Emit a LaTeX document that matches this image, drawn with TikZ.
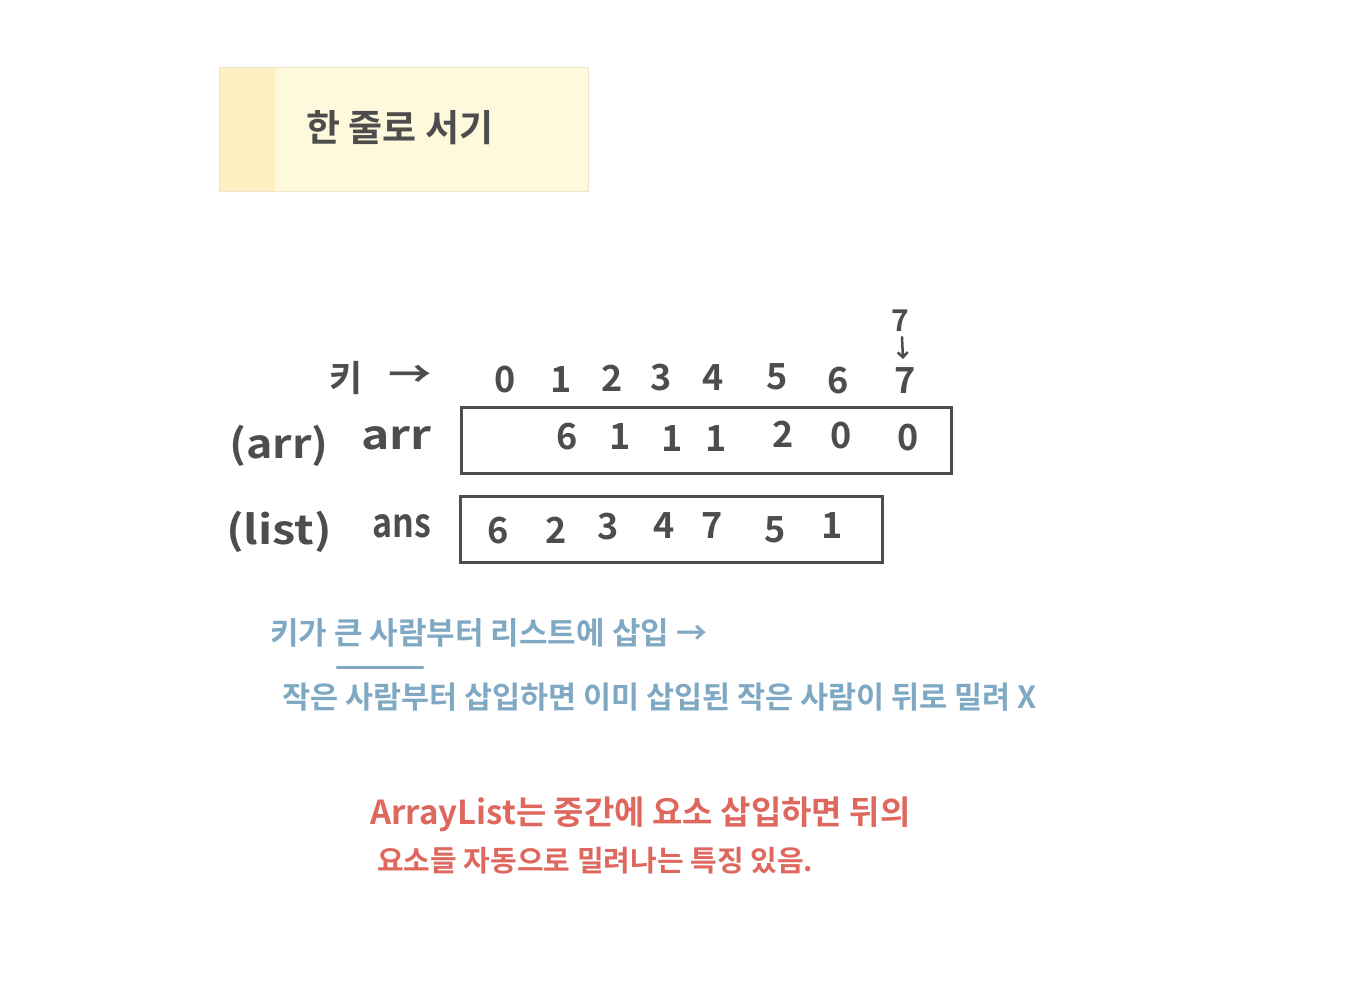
\documentclass[tikz,border=0pt]{standalone}
\usepackage{fontspec}
\setmainfont{Noto Sans CJK KR}[BoldFont={Noto Sans CJK KR Bold}]
\usetikzlibrary{arrows.meta}
\definecolor{ink}{HTML}{4D4D4D}
\definecolor{note}{HTML}{FEF8DC}
\definecolor{stripe}{HTML}{FEF0C3}
\definecolor{noteedge}{HTML}{EEE4CC}
\definecolor{blueink}{HTML}{7FA9C3}
\definecolor{redink}{HTML}{DE675E}
\newcommand{\fs}[1]{\fontsize{#1}{#1}\selectfont\bfseries}
\begin{document}
\begin{tikzpicture}[x=1pt,y=-1pt,
  every node/.style={inner sep=0pt, text=ink},
  digit/.style={font=\fs{36}},
  label/.style={font=\fs{40}},
  arraybox/.style={draw=ink, line width=3pt, anchor=north west},
  bluetext/.style={text=blueink, anchor=west},
  redtext/.style={text=redink, anchor=west}]
\useasboundingbox (0,0) rectangle (1353,999);
\fill[white] (0,0) rectangle (1353,999);

% title note
\node[draw=noteedge, fill=note, line width=1pt, anchor=north west,
      minimum width=369pt, minimum height=124pt] (note) at (219,67) {};
\fill[stripe] (219.5,67.5) rectangle (275,190.5);
\node[anchor=west, font=\fs{37}] (title) at (306,128) {한 줄로 서기};

% index row
\node[font=\fs{36}] (ki) at (346,378) {키};
\node[font=\fs{36}] (kiarrow) at (410,376) {\scalebox{1.2}[1]{→}};
\node[digit] (i0) at (505,380) {0};
\node[digit] (i1) at (561,380) {1};
\node[digit] (i2) at (612,378) {2};
\node[digit] (i3) at (661,378) {3};
\node[digit] (i4) at (713,378) {4};
\node[digit] (i5) at (777,377) {5};
\node[digit] (i6) at (838,381) {6};
\node[digit] (i7) at (905,381) {7};
\node[font=\fs{30}] (top7) at (900,321) {7};
\draw[ink, line width=2.5pt, line cap=round, -{Straight Barb[length=5pt,width=10pt]}] (top7.south) ++(2,5) -- ++(1,22);

% arr row
\node[label, anchor=west] (arrlab) at (229,446) {\scalebox{1.12}[1]{(arr)}};
\node[label, anchor=west] (arrname) at (361,438) {\scalebox{1.2}[1]{arr}};
\node[arraybox, minimum width=490pt, minimum height=66pt] (arr) at (460,406) {};
\node[digit] (a1) at (567,437) {6};
\node[digit] (a2) at (620,437) {1};
\node[digit] (a3) at (672,439) {1};
\node[digit] (a4) at (716,439) {1};
\node[digit] (a5) at (783,434) {2};
\node[digit] (a6) at (841,436) {0};
\node[digit] (a7) at (908,438) {0};

% list row
\node[label, anchor=west] (listlab) at (226,532) {\scalebox{1.17}[1]{(list)}};
\node[label, anchor=west] (ansname) at (372,526) {\scalebox{0.85}[1]{ans}};
\node[arraybox, minimum width=422pt, minimum height=66pt] (ans) at (459,495) {};
\node[digit] (b1) at (498,531) {6};
\node[digit] (b2) at (556,530) {2};
\node[digit] (b3) at (608,527) {3};
\node[digit] (b4) at (664,526) {4};
\node[digit] (b5) at (712,526) {7};
\node[digit] (b6) at (775,530) {5};
\node[digit] (b7) at (832,526) {1};

% blue notes
\node[bluetext, font=\fs{31}] (blue1) at (270,633) {키가 큰 사람부터 리스트에 삽입 →};
\draw[blueink, line width=3pt, line cap=round] (337,667) -- (423,667);
\node[bluetext, font=\fs{30.5}] (blue2) at (282,697) {작은 사람부터 삽입하면 이미 삽입된 작은 사람이 뒤로 밀려 X};

% red notes
\node[redtext, font=\fs{33}] (red1) at (370,814) {ArrayList는 중간에 요소 삽입하면 뒤의};
\node[redtext, font=\fs{29}] (red2) at (377,861) {요소들 자동으로 밀려나는 특징 있음.};
\end{tikzpicture}
\end{document}
